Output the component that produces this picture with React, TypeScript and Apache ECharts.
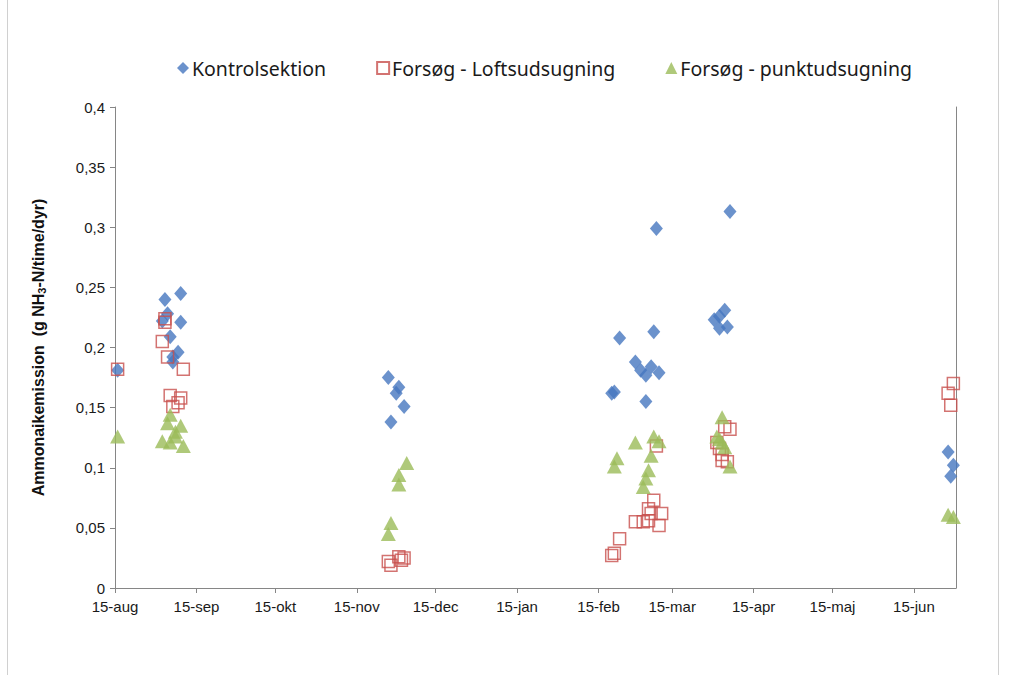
import React, { useEffect, useRef } from "react";
import * as echarts from "echarts";

// Measurement dates and ammonia emission (g NH3-N/time/dyr) per section
const kontrolDates = [
  "2010-08-16", "2010-09-03", "2010-09-09", "2010-09-04", "2010-09-02", "2010-09-09", "2010-09-05", "2010-09-08", "2010-09-06", "2010-09-06",
  "2010-11-27", "2010-12-01", "2010-11-30", "2010-12-03", "2010-11-28",
  "2011-02-23", "2011-02-21", "2011-02-20", "2011-03-08", "2011-03-09", "2011-03-05", "2011-03-01", "2011-03-03", "2011-03-07", "2011-03-05", "2011-03-10",
  "2011-03-31", "2011-04-02", "2011-04-04", "2011-04-02", "2011-04-05", "2011-04-06",
  "2011-06-28", "2011-06-30", "2011-06-29",
];
const kontrolValues = [
  0.181, 0.240, 0.245, 0.228, 0.222, 0.221, 0.209, 0.196, 0.188, 0.192,
  0.175, 0.167, 0.162, 0.151, 0.138,
  0.208, 0.163, 0.162, 0.213, 0.299, 0.155, 0.188, 0.181, 0.184, 0.177, 0.179,
  0.223, 0.226, 0.231, 0.216, 0.217, 0.313,
  0.113, 0.102, 0.093,
];

const loftDates = [
  "2010-08-16", "2010-09-03", "2010-09-03", "2010-09-02", "2010-09-04", "2010-09-10", "2010-09-05", "2010-09-09", "2010-09-08", "2010-09-06",
  "2010-11-27", "2010-11-28", "2010-12-01", "2010-12-02", "2010-12-03",
  "2011-02-23", "2011-02-21", "2011-02-20", "2011-03-01", "2011-03-04", "2011-03-06", "2011-03-06", "2011-03-07", "2011-03-08", "2011-03-10", "2011-03-11", "2011-03-09",
  "2011-04-01", "2011-04-02", "2011-04-03", "2011-04-03", "2011-04-05", "2011-04-04", "2011-04-06",
  "2011-06-30", "2011-06-28", "2011-06-29",
];
const loftValues = [
  0.182, 0.224, 0.221, 0.205, 0.192, 0.182, 0.160, 0.158, 0.154, 0.151,
  0.022, 0.019, 0.026, 0.023, 0.025,
  0.041, 0.029, 0.027, 0.055, 0.055, 0.056, 0.066, 0.062, 0.073, 0.052, 0.062, 0.118,
  0.121, 0.116, 0.111, 0.106, 0.105, 0.134, 0.132,
  0.170, 0.162, 0.152,
];

const punktDates = [
  "2010-08-16", "2010-09-05", "2010-09-04", "2010-09-09", "2010-09-07", "2010-09-07", "2010-09-02", "2010-09-05", "2010-09-10",
  "2010-12-04", "2010-12-01", "2010-12-01", "2010-11-28", "2010-11-27",
  "2011-03-01", "2011-02-22", "2011-02-21", "2011-03-08", "2011-03-10", "2011-03-07", "2011-03-06", "2011-03-05", "2011-03-04",
  "2011-04-03", "2011-04-01", "2011-04-02", "2011-04-03", "2011-04-04", "2011-04-06",
  "2011-06-28", "2011-06-30",
];
const punktValues = [
  0.126, 0.144, 0.137, 0.135, 0.130, 0.126, 0.122, 0.121, 0.118,
  0.104, 0.094, 0.086, 0.054, 0.045,
  0.121, 0.108, 0.101, 0.126, 0.122, 0.110, 0.098, 0.091, 0.084,
  0.142, 0.126, 0.124, 0.121, 0.117, 0.101,
  0.061, 0.059,
];

const tickDates = [
  "2010-08-15", "2010-09-15", "2010-10-15", "2010-11-15", "2010-12-15", "2011-01-15",
  "2011-02-15", "2011-03-15", "2011-04-15", "2011-05-15", "2011-06-15",
];
const tickLabels = [
  "15-aug", "15-sep", "15-okt", "15-nov", "15-dec", "15-jan",
  "15-feb", "15-mar", "15-apr", "15-maj", "15-jun",
];
const axisStart = "2010-08-15";
const axisEnd = "2011-07-01";

const seriesNames = ["Kontrolsektion", "Forsøg - Loftsudsugning", "Forsøg - punktudsugning"];

// Day number (UTC) so the date axis is a plain linear value axis
const DAY = 24 * 3600 * 1000;
const toDay = (s: string) => {
  const [y, m, d] = s.split("-").map(Number);
  return Math.round(Date.UTC(y, m - 1, d) / DAY);
};
const pairs = (dates: string[], values: number[]) => dates.map((d, i) => [toDay(d), values[i]]);

const FONT = "'Liberation Sans', Arial, sans-serif";

export default function App() {
  const ref = useRef<HTMLDivElement>(null);

  useEffect(() => {
    if (!ref.current) return;
    const chart = echarts.init(ref.current, undefined, { renderer: "svg" });
    const tickDays = tickDates.map(toDay);

    chart.setOption({
      animation: false,
      backgroundColor: "#ffffff",
      textStyle: { fontFamily: FONT },
      graphic: [
        { type: "line", shape: { x1: 7.5, y1: 0, x2: 7.5, y2: 675 }, style: { stroke: "#d0d0d0", lineWidth: 1 } },
        { type: "line", shape: { x1: 998.5, y1: 0, x2: 998.5, y2: 675 }, style: { stroke: "#d0d0d0", lineWidth: 1 } },
      ],
      legend: {
        left: 172,
        top: 53,
        itemGap: 50,
        itemWidth: 12,
        itemHeight: 12,
        textStyle: { fontFamily: "'Noto Sans', sans-serif", fontSize: 19.5, color: "#1a1a1a", padding: [0, 0, 0, -2] },
        data: seriesNames,
      },
      grid: { left: 115, right: 54, top: 107, bottom: 87, containLabel: false },
      xAxis: {
        type: "value",
        min: toDay(axisStart),
        max: toDay(axisEnd),
        splitLine: { show: false },
        axisLine: { show: true, lineStyle: { color: "#868686", width: 1 } },
        axisTick: { show: true, customValues: tickDays, length: 5, lineStyle: { color: "#868686" } },
        axisLabel: {
          customValues: tickDays,
          color: "#1a1a1a",
          fontSize: 15,
          fontFamily: FONT,
          margin: 11,
          hideOverlap: false,
          showMinLabel: true,
          showMaxLabel: true,
          formatter: (v: number) => {
            const i = tickDays.indexOf(Math.round(v));
            return i >= 0 ? tickLabels[i] : "";
          },
        },
      },
      yAxis: [
        {
          type: "value",
          min: 0,
          max: 0.4,
          interval: 0.05,
          name: "{a|Ammonaikemission  (g NH}{s|3}{a|-N/time/dyr)}",
          nameLocation: "middle",
          nameGap: 68,
          nameTextStyle: {
            rich: {
              a: { fontFamily: FONT, fontSize: 16, fontWeight: "bold", color: "#111" },
              s: { fontFamily: FONT, fontSize: 11, fontWeight: "bold", color: "#111", verticalAlign: "bottom", padding: [7, 0, 0, 0] },
            },
          },
          splitLine: { show: false },
          axisLine: { show: true, lineStyle: { color: "#868686", width: 1 } },
          axisTick: { show: true, length: 5, lineStyle: { color: "#868686" } },
          axisLabel: {
            color: "#1a1a1a",
            fontSize: 15,
            fontFamily: FONT,
            margin: 10,
            formatter: (v: number) => String(Math.round(v * 100) / 100).replace(".", ","),
          },
        },
        {
          type: "value",
          min: 0,
          max: 0.4,
          position: "right",
          splitLine: { show: false },
          axisLine: { show: true, lineStyle: { color: "#868686", width: 1 } },
          axisTick: { show: false },
          axisLabel: { show: false },
        },
      ],
      series: [
        {
          name: seriesNames[0],
          type: "scatter",
          symbol: "diamond",
          symbolSize: [13, 15],
          itemStyle: { color: "#4677BF" },
          data: pairs(kontrolDates, kontrolValues),
        },
        {
          name: seriesNames[1],
          type: "scatter",
          symbol: "rect",
          symbolSize: 12,
          itemStyle: { color: "rgba(255,255,255,0)", borderColor: "#C8504D", borderWidth: 1.5 },
          data: pairs(loftDates, loftValues),
        },
        {
          name: seriesNames[2],
          type: "scatter",
          symbol: "triangle",
          symbolSize: [15, 14],
          itemStyle: { color: "#9BBB59" },
          data: pairs(punktDates, punktValues),
        },
      ],
    });

    return () => chart.dispose();
  }, []);

  return (
    <div
      ref={ref}
      style={{ position: "fixed", left: 0, top: 0, width: 1010, height: 675, background: "#fff" }}
    />
  );
}
